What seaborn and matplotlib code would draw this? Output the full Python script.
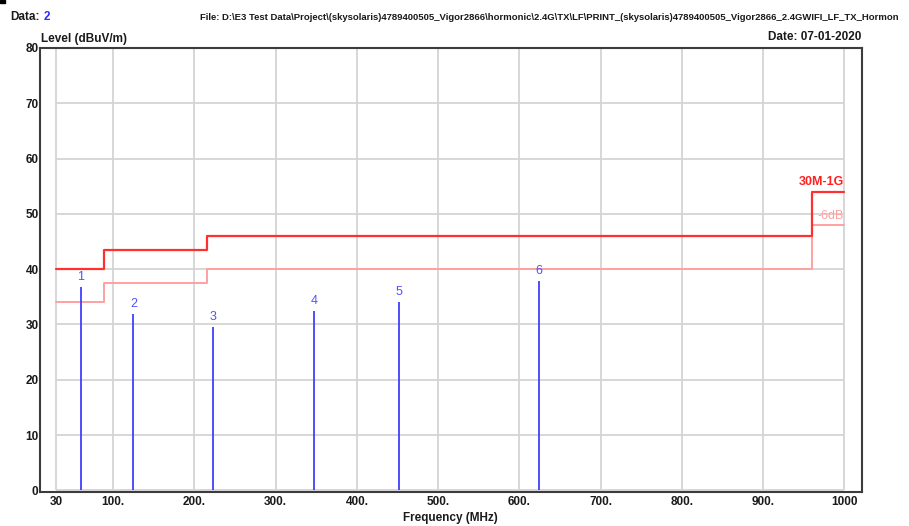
import pandas as pd
import matplotlib
matplotlib.use("Agg")
import matplotlib.pyplot as plt
import seaborn as sns
from matplotlib.patches import Rectangle

# limit lines (FCC class B, 30M-1G) and the -6dB margin line
limit_freq = [30, 88, 216, 960, 1000]
limit_level = [40, 43.5, 46, 54, 54]
margin_level = [34, 37.5, 40, 48, 48]

# measured peaks
peak_no = ["1", "2", "3", "4", "5", "6"]
peak_freq = [60.3, 124.7, 222.8, 347.6, 452.2, 624.2]
peak_level = [36.7, 31.9, 29.5, 32.4, 34.1, 37.9]

x_ticks = [30, 100, 200, 300, 400, 500, 600, 700, 800, 900, 1000]
x_labels = ["30", "100.", "200.", "300.", "400.", "500.", "600.", "700.", "800.", "900.", "1000"]
y_ticks = [0, 10, 20, 30, 40, 50, 60, 70, 80]

title = ("File: D:\\E3 Test Data\\Project\\(skysolaris)4789400505_Vigor2866\\hormonic\\2.4G\\TX\\LF\\"
         "PRINT_(skysolaris)4789400505_Vigor2866_2.4GWIFI_LF_TX_Hormon")

sns.set_style("white")
plt.rcParams['font.family'] = ['Liberation Sans Narrow', 'Liberation Sans', 'DejaVu Sans']
plt.rcParams['font.weight'] = 'bold'

W, H = 909, 526
fig = plt.figure(figsize=(W / 100, H / 100), dpi=100)
ax = fig.add_axes([40 / W, 1 - 491.7 / H, (861.7 - 40) / W, (491.7 - 48) / H])

# grid only inside 30..1000 MHz
ax.hlines(y_ticks, 30, 1000, color='#d4d4d4', lw=1.3, zorder=0)
ax.vlines(x_ticks, 0, 80, color='#d4d4d4', lw=1.3, zorder=0)

df = pd.DataFrame({'freq': limit_freq, 'limit': limit_level, 'margin': margin_level})
sns.lineplot(data=df, x='freq', y='limit', drawstyle='steps-post', color='#ff3030',
             lw=1.6, ax=ax, zorder=3)
sns.lineplot(data=df, x='freq', y='margin', drawstyle='steps-post', color='#ffa0a0',
             lw=1.4, ax=ax, zorder=2)

ax.vlines(peak_freq, 0, peak_level, color='#4040ff', lw=1.3, zorder=4)
for n, f, v in zip(peak_no, peak_freq, peak_level):
    ax.annotate(n, (f, v), xytext=(0, 3), textcoords='offset points', ha='center',
                va='bottom', color='#5050ff', fontsize=9, fontweight='normal')

ax.text(1000, 54.6, "30M-1G", color='#ff2020', fontsize=9, fontweight='bold',
        ha='right', va='bottom')
ax.text(1000, 48.6, "-6dB", color='#ffa0a0', fontsize=9, fontweight='normal',
        ha='right', va='bottom')

ax.set_xlim(9.8, 1021.5)
ax.set_ylim(-0.25, 80)
ax.set_xticks(x_ticks)
ax.set_xticklabels(x_labels)
ax.set_yticks(y_ticks)
ax.tick_params(axis='both', length=0, labelsize=8.5, colors='#1a1a1a')
ax.tick_params(axis='x', pad=3)
ax.tick_params(axis='y', pad=1)
for s in ax.spines.values():
    s.set_color('#3c3c3c')
    s.set_linewidth(1.5)
ax.set_xlabel("Frequency (MHz)", fontsize=8.5, fontweight='bold', color='#1a1a1a', labelpad=3)
ax.set_ylabel("")

# header texts
t_data = fig.text(10 / W, 1 - 17 / H, "Data:", fontsize=8.5, fontweight='bold',
                  color='#1a1a1a', va='center')
ax.annotate("2", xy=(1, 0.5), xycoords=t_data, xytext=(3, 0), textcoords='offset points',
            ha='left', va='center', fontsize=8.5, fontweight='bold', color='#2b2bff',
            annotation_clip=False)
fig.text(200 / W, 1 - 17 / H, title, fontsize=6.8, fontweight='bold', color='#1a1a1a', va='center')
fig.text(41 / W, 1 - 39 / H, "Level (dBuV/m)", fontsize=8.5, fontweight='bold', color='#1a1a1a', va='center')
fig.text(861 / W, 1 - 37 / H, "Date: 07-01-2020", fontsize=8.5, fontweight='bold', color='#1a1a1a',
         va='center', ha='right')
fig.patches.append(Rectangle((0, 1 - 3 / H), 5 / W, 3 / H, transform=fig.transFigure,
                             color='black', figure=fig))

fig.savefig("out.png", dpi=100)
